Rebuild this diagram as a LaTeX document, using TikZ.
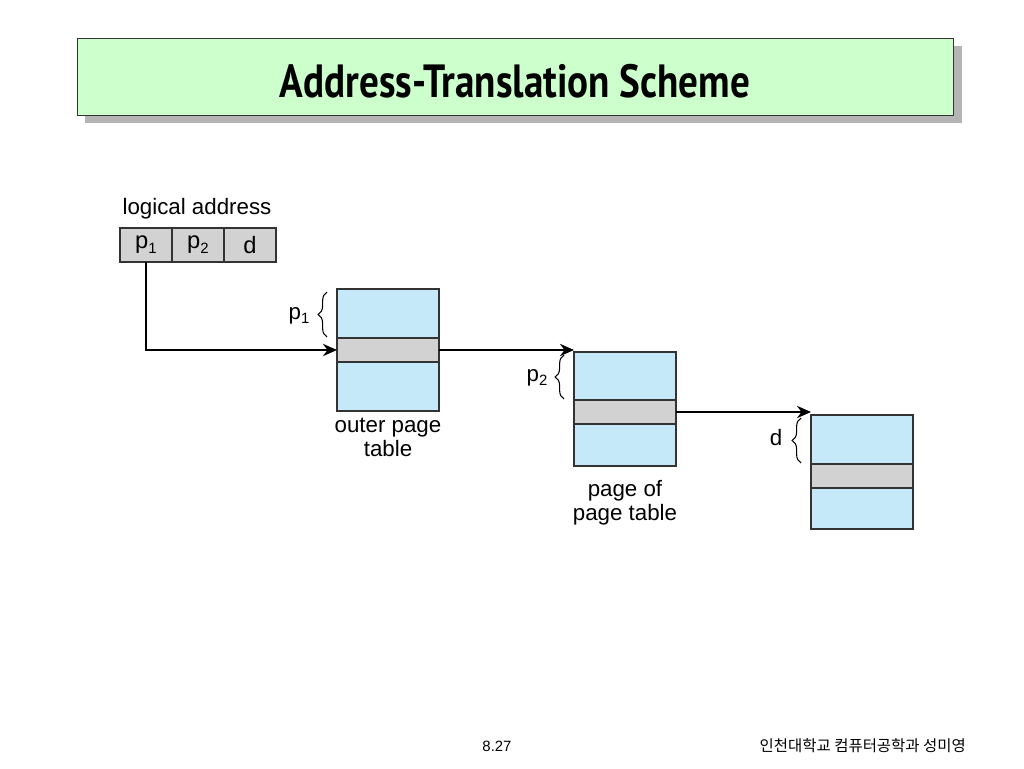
\documentclass[tikz,border=0pt]{standalone}
\usepackage{fontspec}
\setmainfont{Liberation Sans}
\newfontfamily\titlefont[FakeStretch=0.84]{PT Sans Bold}
\newfontfamily\krfont{Noto Sans CJK KR}
\usepackage{tikz}
\usetikzlibrary{arrows.meta,positioning,decorations.pathreplacing}

\definecolor{titlegreen}{HTML}{CCFFCC}
\definecolor{shadowgray}{HTML}{B4B4B4}
\definecolor{cellgray}{HTML}{D2D2D2}
\definecolor{tableblue}{HTML}{C6E9F9}
\definecolor{edgedark}{HTML}{333333}

\newcommand{\lowidx}[1]{\raisebox{-0.35ex}{\fontsize{8.5}{9}\selectfont #1}}

\begin{document}
\begin{tikzpicture}[x=0.02cm,y=-0.02cm,
  cell/.style={draw=edgedark, fill=cellgray, line width=0.8pt, minimum width=1.04cm,
    minimum height=0.68cm, inner sep=0pt, outer sep=0pt,
    font=\fontsize{13.5}{15}\selectfont},
  ptable/.style={draw=edgedark, fill=tableblue, line width=0.8pt,
    minimum width=2.04cm, inner sep=0pt, outer sep=0pt},
  band/.style={draw=edgedark, fill=cellgray, line width=0.8pt,
    minimum width=2.04cm, minimum height=0.48cm, inner sep=0pt, outer sep=0pt},
  label/.style={font=\fontsize{12.7}{13.6}\selectfont, align=center},
  link/.style={-{Stealth[length=8pt,width=7pt]}, line width=1.1pt},
  lbrace/.style={decorate, decoration={brace, amplitude=5pt}, semithick}
]
\useasboundingbox (0,0) rectangle (1024,768);

% title bar
\fill[shadowgray] (85,46) rectangle (962,123);
\node[draw=edgedark, fill=titlegreen, minimum width=17.52cm, minimum height=1.54cm,
  anchor=north west, inner sep=0pt] (title) at (77,38) {};
\node[font=\titlefont\fontsize{26.5}{30}\selectfont] (titletext) at (515,81) {Address-Translation Scheme};

% logical address
\node[cell, anchor=north west] (p1) at (120,228) {p\lowidx{1}};
\node[cell, right=0pt of p1] (p2) {p\lowidx{2}};
\node[cell, right=0pt of p2] (d) {d};
\node[label, anchor=south] (logaddr) at (197,225) {logical address};

% outer page table
\node[ptable, minimum height=2.44cm, anchor=north west] (outer) at (337,289) {};
\node[band, anchor=north west] (outerband) at (337,338) {};
\node[label, below=0.02cm of outer] (outerlbl) {outer page\\table};

% page of page table
\node[ptable, minimum height=2.28cm, anchor=north west] (pgpt) at (574,352) {};
\node[band, anchor=north west] (pgptband) at (574,400) {};
\node[label, below=0.16cm of pgpt] (pgptlbl) {page of\\page table};

% page frame
\node[ptable, minimum height=2.28cm, anchor=north west] (frame) at (811,415) {};
\node[band, anchor=north west] (frameband) at (811,464) {};

% offsets
\draw[lbrace] (327,337) -- (327,292);
\node[label] (p1off) at (299,316) {p\lowidx{1}};
\draw[lbrace] (564,399) -- (564,355);
\node[label] (p2off) at (537,378) {p\lowidx{2}};
\draw[lbrace] (801,463) -- (801,418);
\node[label] (doff) at (776,438) {d};

% links
\draw[link] (p1.south) |- (outerband.west);
\draw[link] (outerband.east) -- (outerband.east -| pgpt.west);
\draw[link] (pgptband.east) -- (pgptband.east -| frame.west);

% footer
\node[font=\fontsize{8.5}{10}\selectfont] (pageno) at (497,746) {8.27};
\node[font=\krfont\fontsize{8.8}{11}\selectfont, anchor=east] (author) at (972,746) {인천대학교 컴퓨터공학과 성미영};
\end{tikzpicture}
\end{document}
